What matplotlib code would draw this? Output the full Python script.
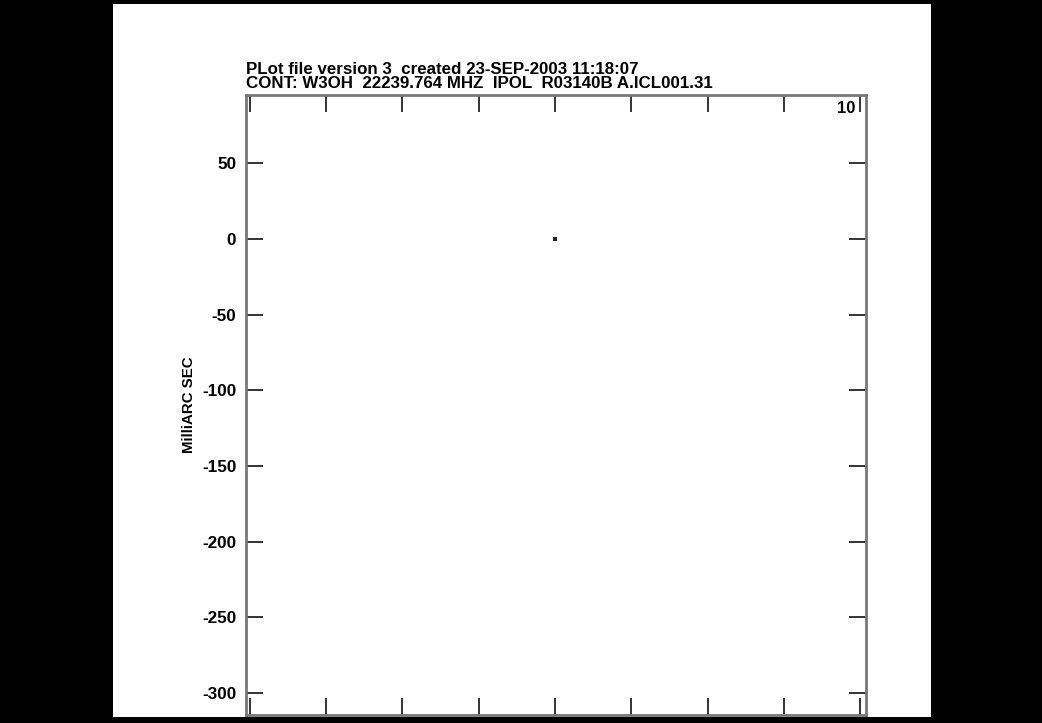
import matplotlib
matplotlib.use('Agg')
import matplotlib.pyplot as plt
import numpy as np

# Plot header and labels
header_lines = ['PLot file version 3  created 23-SEP-2003 11:18:07',
                'CONT: W3OH  22239.764 MHZ  IPOL  R03140B A.ICL001.31']
y_label = 'MilliARC SEC'
corner_label = '10'

# Axis ticks (milliarcsec)
x_ticks = [-200, -150, -100, -50, 0, 50, 100, 150, 200]
y_ticks = [50, 0, -50, -100, -150, -200, -250, -300]

# Continuum component position
src_x = [0.0]
src_y = [0.0]

plt.rcParams['font.family'] = ['Liberation Sans', 'DejaVu Sans']
plt.rcParams['font.weight'] = 'bold'

W, H = 1042, 723
fig = plt.figure(figsize=(W / 100, H / 100), dpi=100, facecolor='black')

# white page on black background
page = fig.add_axes([113 / W, 6 / H, (931 - 113) / W, (717 - 4) / H])
page.set_facecolor('white')
page.set_xticks([])
page.set_yticks([])
for s in page.spines.values():
    s.set_visible(False)

ax = fig.add_axes([246 / W, 8 / H, 620 / W, 620 / H])
ax.plot(src_x, src_y, 's', color='#222222', markersize=2.2, markeredgewidth=0)

ax.set_xlim(-202.3, 203.7)
ax.set_ylim(-314.4, 95)
ax.set_xticks(x_ticks)
ax.set_yticks(y_ticks)
ax.set_xticklabels([])
ax.set_yticklabels([str(v) for v in y_ticks], fontsize=12.3, fontweight='bold')
ax.tick_params(direction='in', length=12, width=1.4, color='#333333',
               top=True, right=True, pad=7)
for s in ax.spines.values():
    s.set_color('#777777')
    s.set_linewidth(2)

ax.set_ylabel(y_label, fontsize=10.8, fontweight='bold', labelpad=4)

ax.text(0.968, 0.979, corner_label, transform=ax.transAxes, ha='center', va='center',
        fontsize=12, fontweight='bold')

fig.text(246 / W, 1 - 69 / H, header_lines[0], ha='left', va='center', fontsize=12.2, fontweight='bold')
fig.text(246 / W, 1 - 84 / H, header_lines[1], ha='left', va='center', fontsize=12.2, fontweight='bold')

fig.savefig('out.png', dpi=100, facecolor='black')
